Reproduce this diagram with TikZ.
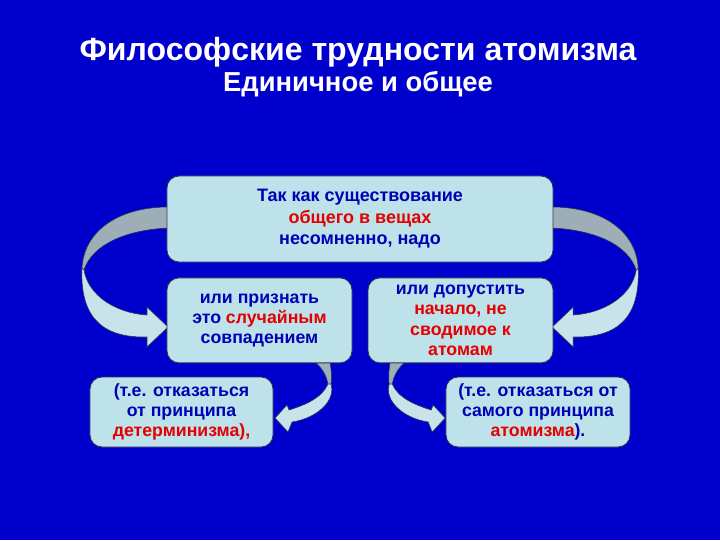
\documentclass[tikz,border=0pt]{standalone}
\usepackage{fontspec}
\setmainfont{Liberation Sans}
\usepackage{tikz}
\usetikzlibrary{positioning,calc}

\definecolor{bgblue}{RGB}{0,0,204}
\definecolor{boxfill}{RGB}{190,226,233}
\definecolor{boxline}{RGB}{40,50,80}
\definecolor{txtblue}{RGB}{0,0,180}
\definecolor{txtred}{RGB}{228,0,0}
\definecolor{ribback}{RGB}{158,174,182}
\definecolor{ribfront}{RGB}{200,228,234}

\tikzset{
  box/.style={draw=boxline, line width=0.6pt, fill=boxfill, rounded corners=0.3cm,
    align=center, text=txtblue, inner sep=0pt,
    font=\bfseries\fontsize{12.6}{14.5}\selectfont},
  ribbonback/.style={fill=ribback, draw=boxline, line width=0.4pt},
  ribbonfront/.style={fill=ribfront, draw=boxline, line width=0.4pt},
}

\newcommand{\red}[1]{\textcolor{txtred}{#1}}

% big ribbon from the top box down to a middle box
\newcommand{\bigribbon}{%
  \path[ribbonback] (172,207) -- (168,207) .. controls (120,207) and (84,230) .. (82,268)
    -- (84,270) .. controls (92,245) and (125,230) .. (168,228) -- (172,228) -- cycle;
  \path[ribbonfront] (82,268) .. controls (80,315) and (100,338) .. (147,337)
    -- (147,347) -- (168,327) -- (147,307) -- (147,315)
    .. controls (115,313) and (88,295) .. (84,270) -- cycle;
}
% small ribbon from a middle box down to a bottom box
\newcommand{\smallribbon}{%
  \path[ribbonback] (315,358) -- (315,362) .. controls (322,368) and (327,376) .. (328,385)
    -- (331,385) .. controls (332,375) and (331,368) .. (330,362) -- (330,358) -- cycle;
  \path[ribbonfront] (331,384) .. controls (336,400) and (318,418) .. (292,422)
    -- (288,432) -- (275,418) -- (287,405) -- (289,410)
    .. controls (305,405) and (322,398) .. (328,384) -- cycle;
}

\begin{document}
\begin{tikzpicture}[x=0.025cm, y=-0.025cm]

  \fill[bgblue] (0,0) rectangle (720,540);

  % ribbons, left and mirrored right
  \bigribbon
  \smallribbon
  \begin{scope}[xshift=18cm, xscale=-1]
    \bigribbon
    \smallribbon
  \end{scope}

  \node[text=white, font=\bfseries\fontsize{22.8}{26}\selectfont] (title) at (358,52)
    {Философские трудности атомизма};
  \node[text=white, font=\bfseries\fontsize{19.5}{22}\selectfont] (subtitle) at (358,84)
    {Единичное и общее};

  \node[box, minimum width=9.65cm, minimum height=2.15cm,
    font=\bfseries\fontsize{12.8}{15.3}\selectfont] (top) at (360,219)
    {Так как существование\\ \red{общего в вещах}\\ несомненно, надо};

  \node[box, minimum width=4.625cm, minimum height=2.125cm, anchor=north west]
    (lmid) [below right=0.375cm and 0cm of top.south west]
    {или признать\\ это \red{случайным}\\ совпадением};
  \node[box, minimum width=4.625cm, minimum height=2.125cm, anchor=north east]
    (rmid) [below left=0.375cm and 0cm of top.south east]
    {или допустить\\ \red{начало, не}\\ \red{сводимое к}\\ \red{атомам}};

  \node[box, minimum width=4.575cm, minimum height=1.75cm] (lbot) at (181.5,412)
    {(т.е. отказаться\\ от принципа\\ \red{детерминизма),}};
  \node[box, minimum width=4.6cm, minimum height=1.75cm] (rbot) at (538,412)
    {(т.е. отказаться от\\ самого принципа\\ \red{атомизма}).};

\end{tikzpicture}
\end{document}
